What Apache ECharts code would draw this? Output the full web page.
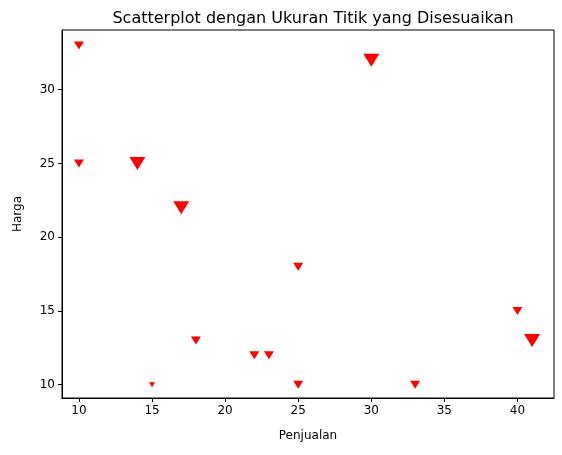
<!DOCTYPE html>
<html>
<head>
<meta charset="utf-8">
<script src="https://cdn.jsdelivr.net/npm/echarts@6/dist/echarts.min.js"></script>
<style>html,body{margin:0;padding:0;background:#fff}#chart{width:562px;height:455px}</style>
</head>
<body>
<div id="chart"></div>
<script>
// data
const penjualan = [10, 10, 14, 17, 30, 25, 18, 22, 23, 25, 15, 33, 40, 41];
const harga     = [33, 25, 25, 22, 32, 18, 13, 12, 12, 10, 10, 10, 15, 13];
const ukuran    = [10, 10, 16, 16, 16, 10, 10, 10, 10, 10, 6, 10, 10, 16];
const xTicks = [10, 15, 20, 25, 30, 35, 40];
const yTicks = [10, 15, 20, 25, 30];

const chart = echarts.init(document.getElementById('chart'));
const font = 'DejaVu Sans';
const axisCommon = {
  axisLine: { show: true, onZero: false, lineStyle: { color: '#000', width: 1 } },
  axisTick: { show: true, length: 4, lineStyle: { color: '#000' } },
  axisLabel: { color: '#000', fontSize: 12, fontFamily: font },
  splitLine: { show: false },
  nameTextStyle: { color: '#000', fontSize: 12, fontFamily: font }
};
chart.setOption({
  animation: false,
  title: {
    text: 'Scatterplot dengan Ukuran Titik yang Disesuaikan',
    left: 308, top: 6, textAlign: 'center',
    textStyle: { fontSize: 16, fontWeight: 'normal', color: '#000', fontFamily: font }
  },
  grid: { left: 62, right: 8, top: 30, bottom: 57, show: true, borderColor: '#000', borderWidth: 1 },
  xAxis: Object.assign({}, axisCommon, {
    type: 'value', min: 8.84, max: 42.5,
    name: 'Penjualan', nameLocation: 'middle', nameGap: 32,
    axisTick: Object.assign({}, axisCommon.axisTick, { customValues: xTicks }),
    axisLabel: Object.assign({}, axisCommon.axisLabel, { customValues: xTicks, margin: 7 })
  }),
  yAxis: Object.assign({}, axisCommon, {
    type: 'value', min: 9.1, max: 34.05,
    name: 'Harga', nameLocation: 'middle', nameGap: 38,
    axisTick: Object.assign({}, axisCommon.axisTick, { customValues: yTicks }),
    axisLabel: Object.assign({}, axisCommon.axisLabel, { customValues: yTicks, margin: 7 })
  }),
  series: [{
    type: 'scatter',
    symbol: 'triangle',
    symbolRotate: 180,
    symbolSize: (v, p) => [ukuran[p.dataIndex], ukuran[p.dataIndex] * 0.8],
    itemStyle: { color: '#ff0000', opacity: 1 },
    data: penjualan.map((x, i) => [x, harga[i]])
  }]
});
</script>
</body>
</html>
